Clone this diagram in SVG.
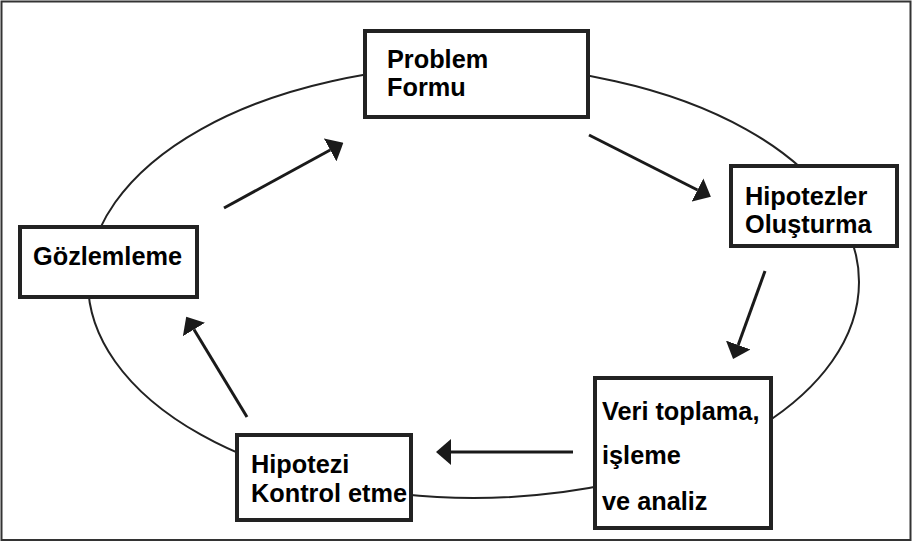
<svg xmlns="http://www.w3.org/2000/svg" width="913" height="543" viewBox="0 0 913 543">
<style>
.box{fill:#fff;stroke:#222;stroke-width:4}
.lbl{font-family:"Liberation Sans",Arial,sans-serif;font-weight:bold;font-size:25.3px;fill:#000}
.arr{stroke:#1a1a1a;stroke-width:3;fill:none;marker-end:url(#ah)}
</style>
<defs>
<marker id="ah" markerUnits="userSpaceOnUse" viewBox="0 -13 15 26" refX="0" refY="0" markerWidth="15" markerHeight="26" orient="auto">
<path d="M0,-13 L15,0 L0,13 z" fill="#1a1a1a"/>
</marker>
</defs>
<rect x="0" y="0" width="913" height="543" fill="#fff"/>
<rect x="1.5" y="1.5" width="909" height="538.5" fill="none" stroke="#333" stroke-width="2"/>
<ellipse cx="473.5" cy="282" rx="385.5" ry="216" fill="none" stroke="#222" stroke-width="2"/>
<g id="connectors">
<line class="arr" x1="589" y1="135" x2="697.5" y2="190"/>
<line class="arr" x1="765" y1="271" x2="738.2" y2="345"/>
<line class="arr" x1="573" y1="452" x2="451" y2="452"/>
<line class="arr" x1="247" y1="417" x2="194" y2="329.5"/>
<line class="arr" x1="224" y1="208" x2="330.2" y2="150"/>
</g>
<g id="problem">
<rect class="box" x="365" y="31" width="223" height="86"/>
<text class="lbl" x="387" y="68">Problem</text>
<text class="lbl" x="387" y="96">Formu</text>
</g>
<g id="hipotezler">
<rect class="box" x="731" y="166" width="166" height="80"/>
<text class="lbl" x="745" y="205">Hipotezler</text>
<text class="lbl" x="745" y="233">Oluşturma</text>
</g>
<g id="veri">
<rect class="box" x="595" y="378" width="176" height="150"/>
<text class="lbl" x="602" y="420">Veri toplama,</text>
<text class="lbl" x="602" y="464">işleme</text>
<text class="lbl" x="602" y="510">ve analiz</text>
</g>
<g id="hipotezi">
<rect class="box" x="237" y="435" width="174" height="85"/>
<text class="lbl" x="251" y="473">Hipotezi</text>
<text class="lbl" x="251" y="502">Kontrol etme</text>
</g>
<g id="gozlemleme">
<rect class="box" x="20" y="227" width="177" height="70"/>
<text class="lbl" x="33" y="265">Gözlemleme</text>
</g>
</svg>
